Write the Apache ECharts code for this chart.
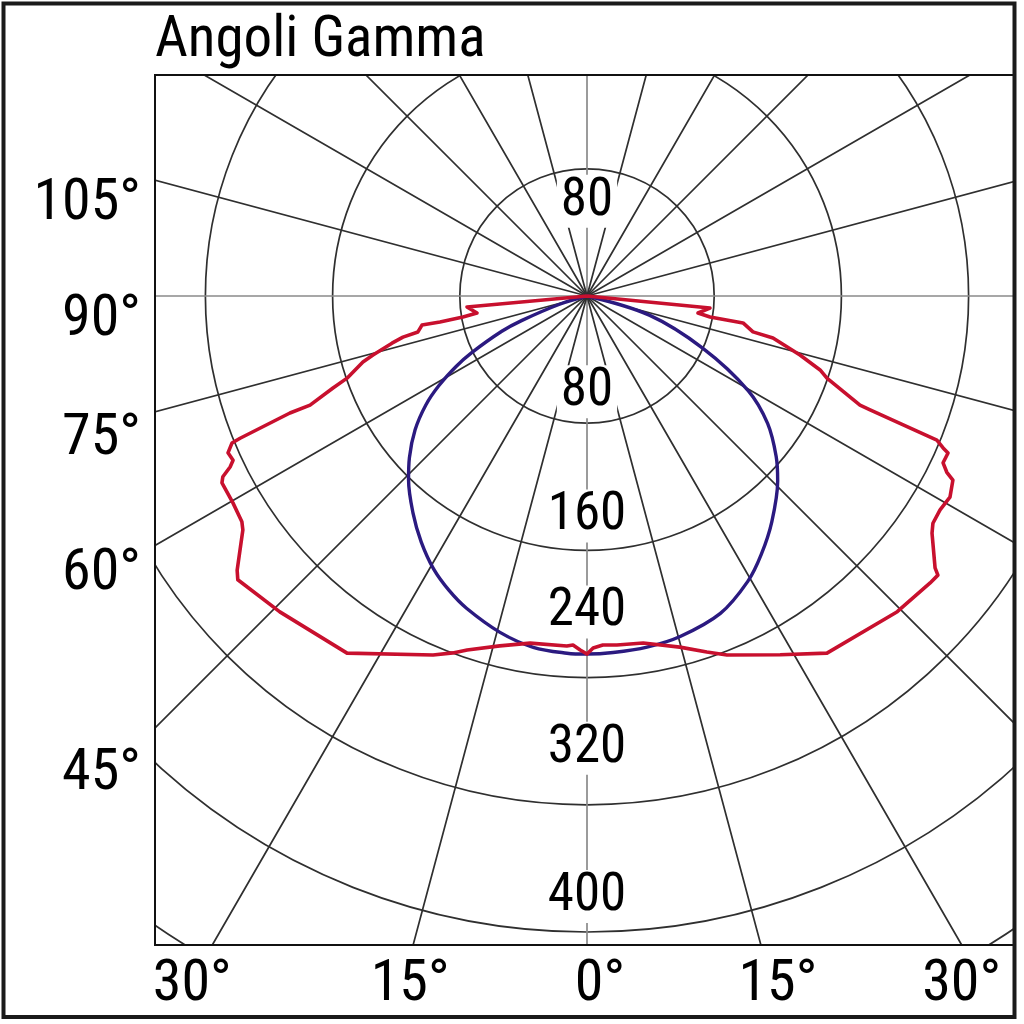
<!DOCTYPE html>
<html><head><meta charset="utf-8">
<script src="https://cdn.jsdelivr.net/npm/echarts@6/dist/echarts.min.js"></script>
<style>html,body{margin:0;padding:0;background:#fff}#c{width:1024px;height:1024px}</style>
</head><body><div id="c"></div>
<script>
// ---------- data ----------
const titleText = 'Angoli Gamma';
const radiusTickLabels = [80, 160, 240, 320, 400];
const leftAngleTicks = [105, 90, 75, 60, 45];
const bottomAngleTicks = [-30, -15, 0, 15, 30];

// red curve, left half (gamma from 90 down to 0) and right half (0 up to 90)
const redLeftGamma = [90,84.8,81.2,80.4,80.0,80.0,78.0,77.4,76.4,74.6,73.6,71.1,70.1,68.5,68.5,67.7,67.5,66.4,65.1,64.4,63.6,62.9,59.7,56.8,55.8,51.9,50.9,44.2,33.9,23.2,20.6,18.7,14.0,9.3,3.3,2.3,1.1,0];
const redLeftI     = [0,75.8,70.0,79.1,93.9,105.4,108.7,118.6,126.2,139.6,146.9,159.5,169.9,187.2,200.8,235.8,241.7,246.4,245.4,248.9,255.7,257.9,257.9,259.4,261.7,279.6,283.0,277.1,270.6,245.7,239.8,235.1,226.8,221.2,220.5,219.7,222.7,225.2];
const redRightGamma = [0,1.0,2.6,4.9,9.2,14.8,18.6,21.3,28.3,33.9,44.5,50.1,51.5,52.0,55.5,56.7,58.8,61.0,63.3,63.9,64.9,66.5,66.9,67.6,68.1,68.2,71.1,72.4,74.5,77.3,77.8,80.2,80.3,81.3,84.4,90];
const redRightI     = [225.2,221.4,219.7,220.3,221.1,228.4,236.3,242.3,256.3,270.6,278.4,281.3,282.0,277.8,263.3,260.3,259.6,261.0,257.6,252.0,247.3,247.6,243.5,238.0,191.9,184.9,159.5,153.8,139.0,119.9,106.8,99.6,78.5,70.6,77.7,0];

// blue curve, left half (90 -> 0) and right half (0 -> 90)
const blueLeftGamma = [90,73.3,69.4,67.5,63.8,61.7,58.8,55.9,52.1,47.7,44.2,38.7,34.0,29.3,25.1,21.1,14.5,8.7,3.2,0];
const blueLeftI     = [0,18.0,44.0,58.0,81.0,93.5,109.0,122.5,137.0,151.0,161.0,175.0,186.5,197.0,204.5,210.5,218.5,223.5,225.0,225.2];
const blueRightGamma = [0,4.2,9.7,15.3,22.8,29.4,34.0,39.3,45.9,49.7,54.8,59.6,65.7,72.9,90];
const blueRightI     = [225.2,224.8,224.0,222.0,216.5,206.0,196.0,183.5,167.0,156.0,139.0,117.5,80.0,41.0,0];

// ---------- layout / style ----------
const CX = 587, CY = 296, PX_PER_UNIT = 1.59, R_MAX = 520;
const BOX = {left: 155, top: 75, right: 1014, bottom: 945};
const FONT = "'Liberation Sans Narrow','Roboto Condensed','DejaVu Sans Condensed',Roboto,sans-serif";
const GRID_DARK = '#2f2f2f', GRID_GRAY = '#8a8a8a';
const RED = '#c8102e', BLUE = '#2b1a80';
const labelGap = {80: 7, 160: 10, 240: 41, 320: 32, 400: 11};
const topLabelGap = 8;
const leftLabelNudge = [24, 24, 28, 29, 46];
const bottomLabelNudge = [-20, -3, 13, 17, 0];

function toPolar(gammas, vals, right) {
  return gammas.map((g, i) => [vals[i], right ? 360 - g : g]);
}
const redData = toPolar(redLeftGamma, redLeftI, false).concat(toPolar(redRightGamma, redRightI, true));
const blueData = toPolar(blueLeftGamma, blueLeftI, false).concat(toPolar(blueRightGamma, blueRightI, true).slice(1));

const chart = echarts.init(document.getElementById('c'), null, {renderer: 'canvas'});
const rpx = R_MAX * PX_PER_UNIT;

const rich = {
  t: {fontFamily: FONT, fontSize: 53, color: '#000', backgroundColor: '#fff', padding: [0, 4], lineHeight: 49}
};
Object.keys(labelGap).forEach(k => { rich['g' + k] = {lineHeight: labelGap[k], fontSize: 6}; });

const graphics = [];
[[0, 0, 1024, BOX.top], [0, BOX.bottom, 1024, 1024 - BOX.bottom], [0, 0, BOX.left, 1024], [BOX.right, 0, 1024 - BOX.right, 1024]]
  .forEach(r => graphics.push({type: 'rect', z: 100, shape: {x: r[0], y: r[1], width: r[2], height: r[3]}, style: {fill: '#fff'}}));
graphics.push({type: 'rect', z: 101, shape: {x: BOX.left, y: BOX.top, width: BOX.right - BOX.left, height: BOX.bottom - BOX.top}, style: {fill: null, stroke: '#111', lineWidth: 2}});
graphics.push({type: 'rect', z: 102, shape: {x: 3.5, y: 3.5, width: 1011, height: 1013.5}, style: {fill: null, stroke: '#1a1a1a', lineWidth: 4}});
graphics.push({type: 'text', z: 103, x: BOX.left, y: 42, style: {text: titleText, font: '57px ' + FONT, fill: '#000', textAlign: 'left', textVerticalAlign: 'middle'}});
leftAngleTicks.forEach((g, i) => {
  const y = CY + (CX - BOX.left) / Math.tan(g * Math.PI / 180) + leftLabelNudge[i];
  graphics.push({type: 'text', z: 103, x: 141, y: y, style: {text: g + '°', font: '58px ' + FONT, fill: '#000', textAlign: 'right', textVerticalAlign: 'middle'}});
});
bottomAngleTicks.forEach((g, i) => {
  const x = CX + (BOX.bottom - CY) * Math.tan(g * Math.PI / 180) + bottomLabelNudge[i];
  graphics.push({type: 'text', z: 103, x: x, y: 985, style: {text: Math.abs(g) + '°', font: '58px ' + FONT, fill: '#000', textAlign: 'center', textVerticalAlign: 'middle'}});
});

chart.setOption({
  backgroundColor: '#fff',
  animation: false,
  polar: [
    {center: [CX, CY], radius: rpx},
    {center: [CX, CY], radius: rpx}
  ],
  angleAxis: [
    {polarIndex: 0, type: 'value', min: 0, max: 360, interval: 15, startAngle: 270, clockwise: true,
      axisLine: {show: false}, axisTick: {show: false}, axisLabel: {show: false},
      splitLine: {show: true, lineStyle: {color: [GRID_GRAY, GRID_DARK, GRID_DARK, GRID_DARK, GRID_DARK, GRID_DARK], width: 1.7}}},
    {polarIndex: 1, type: 'value', min: 0, max: 360, startAngle: 90, show: false}
  ],
  radiusAxis: [
    {polarIndex: 0, type: 'value', min: 0, max: R_MAX, interval: 80,
      axisLine: {show: false}, axisTick: {show: false},
      splitLine: {show: true, lineStyle: {color: GRID_DARK, width: 1.7}},
      axisLabel: {show: true, margin: 0, align: 'center', verticalAlign: 'bottom', rotate: 0,
        formatter: v => radiusTickLabels.indexOf(v) >= 0 ? '{t|' + v + '}\n{g' + v + '| }' : '',
        rich: rich}},
    {polarIndex: 1, type: 'value', min: 0, max: R_MAX, interval: 80,
      axisLine: {show: false}, axisTick: {show: false}, splitLine: {show: false},
      axisLabel: {show: true, margin: 0, align: 'center', verticalAlign: 'top', rotate: 0,
        formatter: v => v === radiusTickLabels[0] ? '{top| }\n{t|' + v + '}' : '',
        rich: Object.assign({top: {lineHeight: topLabelGap, fontSize: 6}}, rich)}}
  ],
  series: [
    {type: 'line', coordinateSystem: 'polar', polarIndex: 0, data: blueData, showSymbol: false, symbol: 'none',
      smooth: 0.35, lineStyle: {color: BLUE, width: 3.4}, z: 4},
    {type: 'line', coordinateSystem: 'polar', polarIndex: 0, data: redData, showSymbol: false, symbol: 'none',
      lineStyle: {color: RED, width: 3.6, join: 'round'}, z: 5}
  ],
  graphic: {elements: graphics}
});
</script></body></html>
